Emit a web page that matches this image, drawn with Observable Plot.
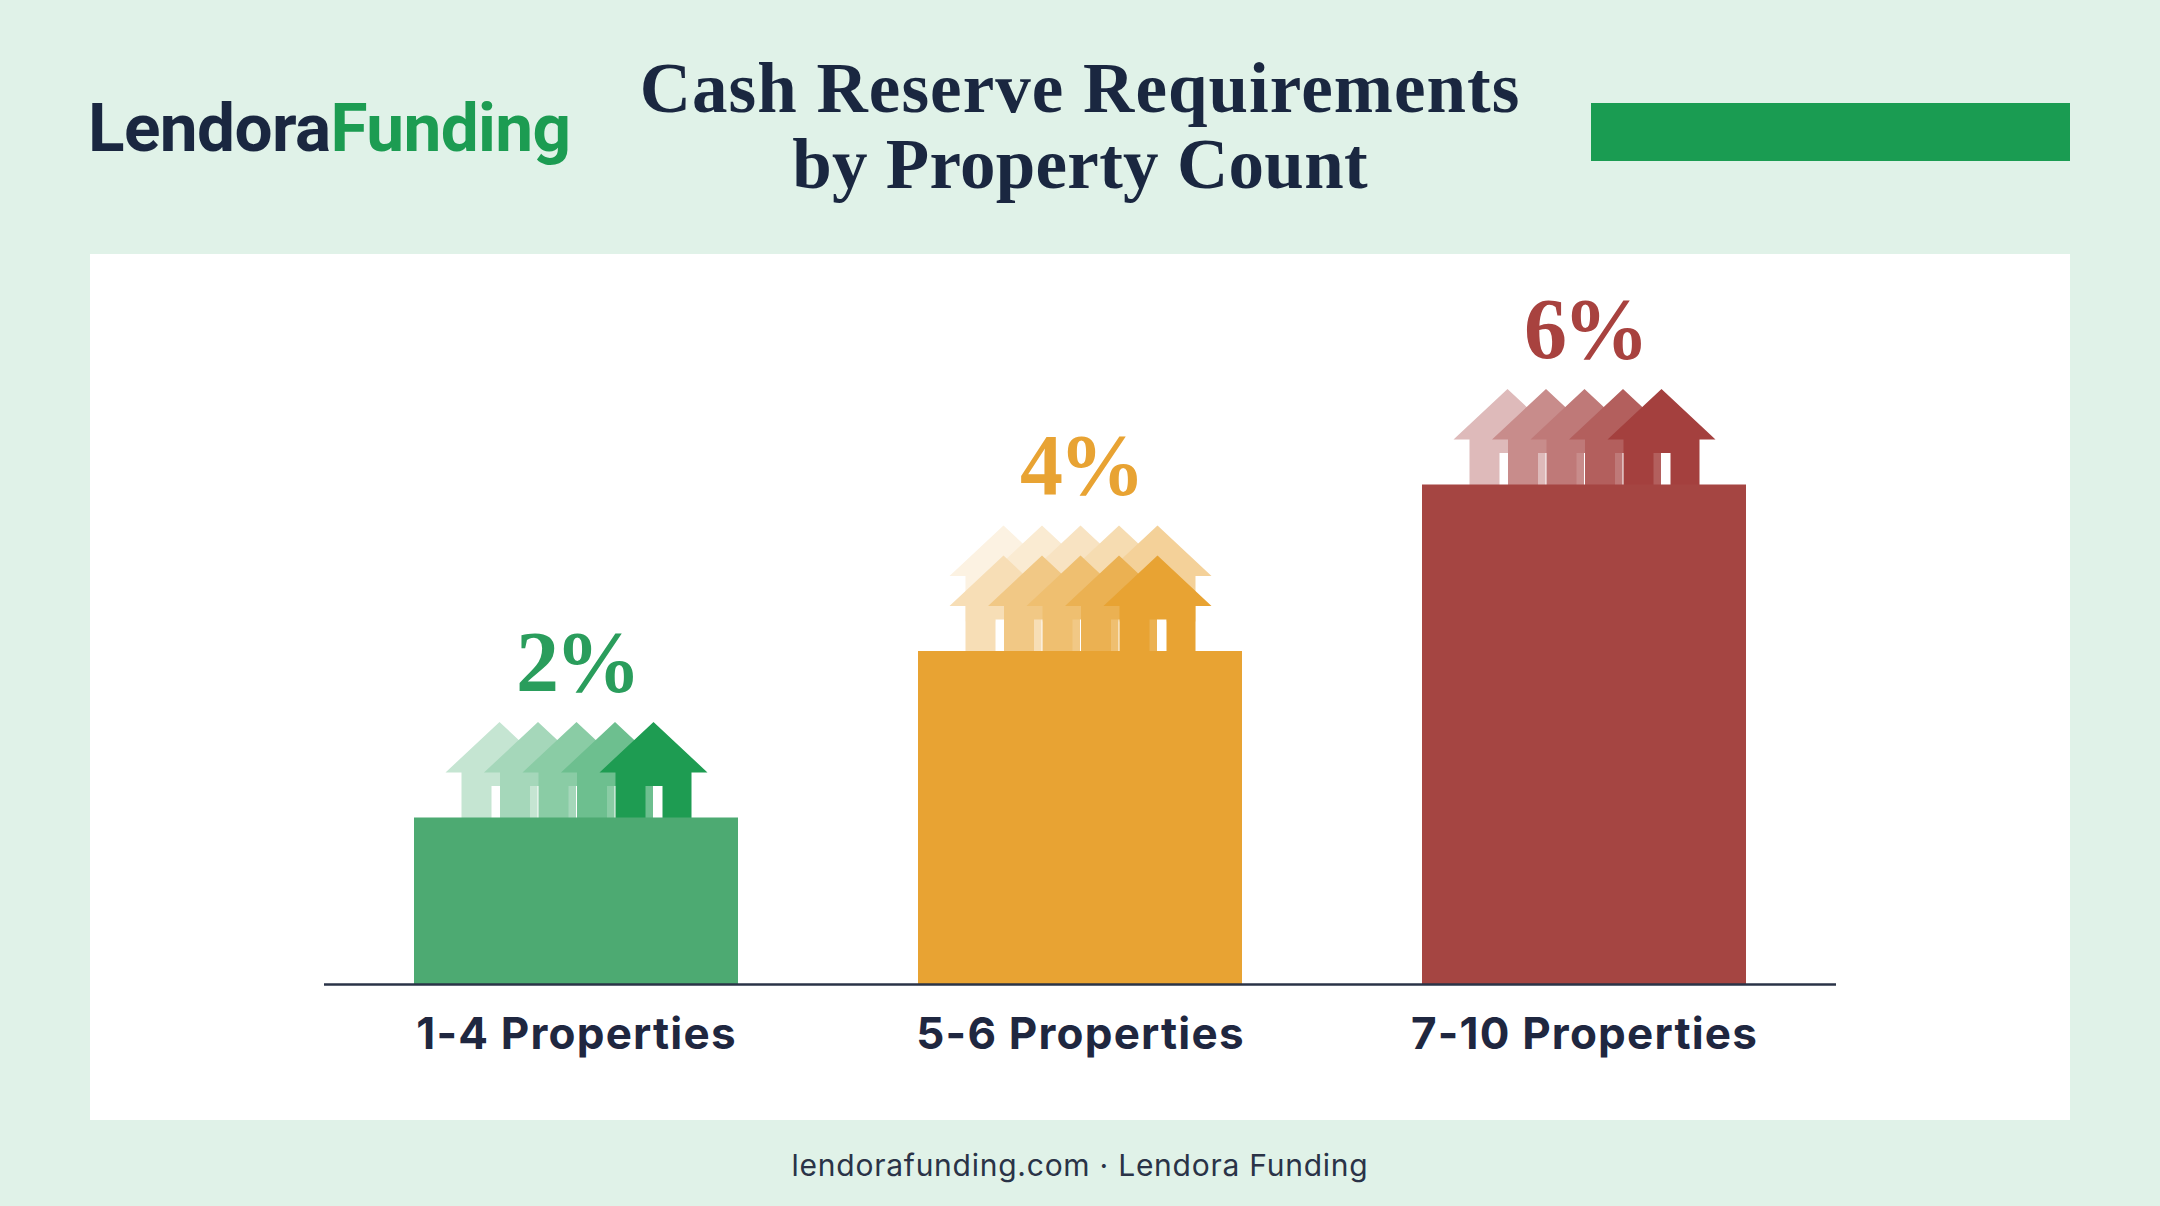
<!DOCTYPE html>
<html>
<head>
<meta charset="utf-8">
<script src="https://cdn.jsdelivr.net/npm/d3@7"></script>
<script src="https://cdn.jsdelivr.net/npm/@observablehq/plot@0.6"></script>
<style>
html,body{margin:0;padding:0;width:2160px;height:1206px;overflow:hidden;background:#e0f2e8;}
.abs{position:absolute;white-space:nowrap;}
#logo{left:88px;top:88px;font:700 67.5px/80px Roboto,sans-serif;color:#1a2740;letter-spacing:-0.6px;}
#logo span{color:#1c9c52;}
#title{left:0;width:2160px;top:50px;text-align:center;font:700 71px/76px "Liberation Serif",serif;letter-spacing:1.05px;color:#1a2740;}
#title span{letter-spacing:0.3px;}
#bar{left:1591px;top:103px;width:479px;height:58px;background:#1a9c52;}
#card{left:90px;top:254px;width:1980px;height:866px;background:#fff;}
#foot{left:0;width:2160px;top:1146px;text-align:center;font:400 30px/38px Inter,sans-serif;letter-spacing:0.75px;color:#2a3347;}
.pct text{letter-spacing:-4px;}
.cat text{letter-spacing:1.2px;}
</style>
</head>
<body>
<div id="logo" class="abs">Lendora<span>Funding</span></div>
<div id="title" class="abs">Cash Reserve Requirements<br><span>by Property Count</span></div>
<div id="bar" class="abs"></div>
<div id="card" class="abs"></div>
<div id="foot" class="abs">lendorafunding.com · Lendora Funding</div>
<script>
const categories = ["1-4 Properties", "5-6 Properties", "7-10 Properties"];
const reserves = [2, 4, 6];
const barColors = ["#4daa72", "#e8a333", "#a54542"];
const labelColors = ["#2a9d5c", "#e8a333", "#a8423f"];
const houseColors = ["#1e9c52", "#e8a333", "#a4403e"];
const houseRows = [1, 2, 1];
const frontTints = [
  [0.26, 0.40, 0.52, 0.65, 1],
  [0.36, 0.60, 0.70, 0.85, 1],
  [0.36, 0.60, 0.70, 0.84, 1]
];
const backTints = [0.14, 0.22, 0.30, 0.38, 0.50];

const rows = categories.map((category, i) => ({
  category, value: reserves[i], bar: barColors[i], label: labelColors[i],
  house: houseColors[i], houseRows: houseRows[i], tints: frontTints[i], text: reserves[i] + "%"
}));

const house = {
  draw(ctx, size) {
    const s = Math.sqrt(size / Math.PI) / 96;
    const pts = [[0,-96],[54,-45.5],[38,-45.5],[38,0],[9,0],[9,-32],[-8,-32],[-8,0],[-38,0],[-38,-45.5],[-54,-45.5]];
    pts.forEach(([x, y], i) => i ? ctx.lineTo(x * s, y * s) : ctx.moveTo(x * s, y * s));
    ctx.closePath();
  }
};

const step = 38.5, rowLift = 30, labelGap = 155;
const houseMarks = [];
rows.forEach(d => {
  for (let r = d.houseRows - 1; r >= 0; r--) {
    const tints = r === 0 ? d.tints : backTints;
    tints.forEach((t, h) => {
      houseMarks.push(Plot.dot([d], {
        x: "category", y: "value", symbol: house, r: 96,
        fill: d3.interpolateRgb("#ffffff", d.house)(t),
        dx: (h - 2) * step, dy: -r * rowLift
      }));
    });
  }
});

const chart = Plot.plot({
  width: 1980, height: 866,
  marginLeft: 234, marginRight: 234, marginTop: 64, marginBottom: 136,
  style: {background: "transparent", overflow: "visible"},
  x: {domain: categories, paddingInner: 0.357, paddingOuter: 0.1785, label: null},
  y: {domain: [0, 8], axis: null},
  color: {type: "identity"},
  marks: [
    ...houseMarks,
    Plot.barY(rows, {x: "category", y: "value", fill: "bar"}),
    Plot.ruleY([0], {stroke: "#2a3347", strokeWidth: 2.5}),
    ...[1, 2].map(n => Plot.text(rows.filter(d => d.houseRows === n), {
      x: "category", y: "value", text: "text", fill: "label",
      dy: -(labelGap + (n - 1) * rowLift),
      fontFamily: "'Liberation Serif', serif", fontWeight: 700, fontSize: 86,
      lineAnchor: "middle", className: "pct"
    })),
    Plot.axisX({
      label: null, tickSize: 0, tickPadding: 33, className: "cat",
      fontFamily: "Inter, sans-serif", fontWeight: 700, fontSize: 44,
      fill: "#1f2740"
    })
  ]
});
chart.style.display = "block";
document.getElementById("card").appendChild(chart);
</script>
</body>
</html>
